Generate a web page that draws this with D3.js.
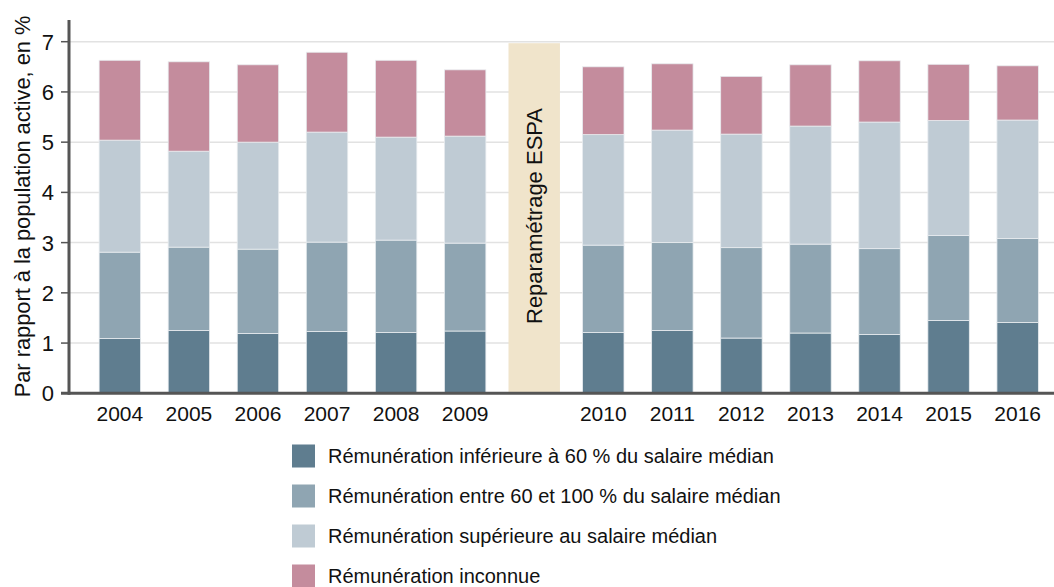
<!DOCTYPE html>
<html>
<head>
<meta charset="utf-8">
<script src="https://cdn.jsdelivr.net/npm/d3@7"></script>
<style>
  body { margin: 0; background: #fff; }
  svg { display: block; font-family: "Liberation Sans", Arial, sans-serif; }
</style>
</head>
<body>
<svg id="chart" width="1054" height="587"></svg>
<script>
const years = ['2004', '2005', '2006', '2007', '2008', '2009', 'ESPA',
  '2010', '2011', '2012', '2013', '2014', '2015', '2016'];
const breakKey = 'ESPA';
const breakLabel = 'Reparamétrage ESPA';

// values per year, ESPA slot left empty
const lowPay = [1.09, 1.25, 1.19, 1.23, 1.21, 1.24, null, 1.21, 1.25, 1.10, 1.20, 1.17, 1.45, 1.41];
const midPay = [1.72, 1.66, 1.68, 1.78, 1.84, 1.75, null, 1.74, 1.75, 1.80, 1.77, 1.71, 1.69, 1.67];
const highPay = [2.23, 1.91, 2.13, 2.19, 2.05, 2.13, null, 2.20, 2.24, 2.26, 2.35, 2.52, 2.29, 2.36];
const unknownPay = [1.59, 1.78, 1.54, 1.59, 1.53, 1.32, null, 1.35, 1.32, 1.15, 1.22, 1.22, 1.12, 1.08];

const seriesNames = [
  'Rémunération inférieure à 60 % du salaire médian',
  'Rémunération entre 60 et 100 % du salaire médian',
  'Rémunération supérieure au salaire médian',
  'Rémunération inconnue'
];
const colors = ['#5f7d8f', '#8fa5b2', '#bfcbd4', '#c48c9d'];
const yTicks = [0, 1, 2, 3, 4, 5, 6, 7];
const yLabel = 'Par rapport à la population active, en %';

const svg = d3.select('#chart');
const axisX = 69, baseY = 393.3, topY = 20;

const x = d3.scaleBand()
  .domain(years)
  .range([78.4, 1059.1])
  .paddingInner(0.4)
  .paddingOuter(0.3);

const y = d3.scaleLinear()
  .domain([0, 7])
  .range([baseY, 41.7]);

// gridlines
svg.append('g')
  .selectAll('line')
  .data(yTicks.slice(1))
  .join('line')
  .attr('x1', axisX)
  .attr('x2', 1054)
  .attr('y1', d => y(d))
  .attr('y2', d => y(d))
  .attr('stroke', '#e2e2e2')
  .attr('stroke-width', 1.5);

// break band
svg.append('rect')
  .attr('x', x(breakKey) - 5)
  .attr('width', x.bandwidth() + 10)
  .attr('y', y(7) + 1.5)
  .attr('height', y(0) - y(7) - 1.5)
  .attr('fill', '#f0e4cb');

svg.append('text')
  .attr('transform', `translate(${x(breakKey) + x.bandwidth() / 2 + 8},${y(3.53)}) rotate(-90)`)
  .attr('text-anchor', 'middle')
  .attr('font-size', 22)
  .attr('fill', '#111')
  .text(breakLabel);

// stacked bars
const rows = years.map((yr, i) => ({
  year: yr,
  s0: lowPay[i], s1: midPay[i], s2: highPay[i], s3: unknownPay[i]
})).filter(d => d.year !== breakKey);

const stack = d3.stack().keys(['s0', 's1', 's2', 's3']);
const layers = stack(rows);

svg.append('g')
  .selectAll('g')
  .data(layers)
  .join('g')
  .attr('fill', (d, i) => colors[i])
  .selectAll('rect')
  .data(d => d)
  .join('rect')
  .attr('x', d => x(d.data.year))
  .attr('width', x.bandwidth())
  .attr('y', d => y(d[1]))
  .attr('height', d => y(d[0]) - y(d[1]))
  .attr('stroke', '#e8ecef')
  .attr('stroke-width', 0.8);

// y axis
const yAxis = svg.append('g');
yAxis.append('line')
  .attr('x1', axisX).attr('x2', axisX)
  .attr('y1', topY).attr('y2', baseY + 1.5)
  .attr('stroke', '#555').attr('stroke-width', 3);
yAxis.selectAll('.tick')
  .data(yTicks)
  .join('line')
  .attr('x1', 61).attr('x2', axisX)
  .attr('y1', d => y(d)).attr('y2', d => y(d))
  .attr('stroke', '#555').attr('stroke-width', 1.5);
yAxis.selectAll('text')
  .data(yTicks)
  .join('text')
  .attr('x', 54)
  .attr('y', d => y(d))
  .attr('dy', '0.36em')
  .attr('text-anchor', 'end')
  .attr('font-size', 22)
  .attr('fill', '#111')
  .text(d => d);

// x axis
svg.append('line')
  .attr('x1', 61).attr('x2', 1054)
  .attr('y1', baseY).attr('y2', baseY)
  .attr('stroke', '#555').attr('stroke-width', 3);

svg.append('g')
  .selectAll('text')
  .data(years.filter(d => d !== breakKey))
  .join('text')
  .attr('x', d => x(d) + x.bandwidth() / 2)
  .attr('y', 421)
  .attr('text-anchor', 'middle')
  .attr('font-size', 21)
  .attr('fill', '#111')
  .text(d => d);

// y label
svg.append('text')
  .attr('transform', `translate(29.5,${206.5}) rotate(-90)`)
  .attr('text-anchor', 'middle')
  .attr('font-size', 21.8)
  .attr('fill', '#111')
  .text(yLabel);

// legend
const legend = svg.append('g')
  .selectAll('g')
  .data(seriesNames)
  .join('g')
  .attr('transform', (d, i) => `translate(292,${456 + i * 40})`);

legend.append('rect')
  .attr('x', 0).attr('y', -11.5)
  .attr('width', 23).attr('height', 23)
  .attr('fill', (d, i) => colors[i]);

legend.append('text')
  .attr('x', 36)
  .attr('y', 0)
  .attr('dy', '0.35em')
  .attr('font-size', 20)
  .attr('fill', '#111')
  .text(d => d);
</script>
</body>
</html>
